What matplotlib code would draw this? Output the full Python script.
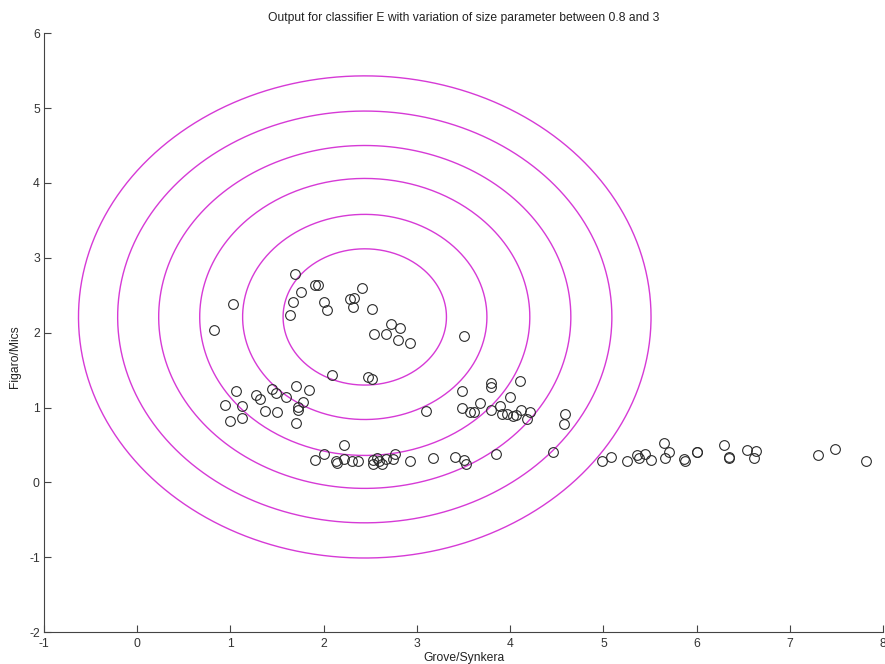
import numpy as np
import matplotlib
matplotlib.use("Agg")
import matplotlib.pyplot as plt

plt.rcParams['font.family'] = ['Liberation Sans', 'DejaVu Sans']
plt.rcParams['axes.unicode_minus'] = False

# scatter data (Grove/Synkera vs Figaro/Mics)
grove = [1.69, 1.03, 0.82, 1.76, 1.67, 1.64, 1.91, 1.94, 2.00, 2.03,
         2.41, 2.28, 2.32, 2.31, 2.52, 2.72, 2.82, 2.54, 2.67, 2.80,
         2.92, 3.50, 2.09, 2.48, 2.52, 1.06, 1.27, 1.32, 1.45, 1.49,
         1.60, 1.70, 1.84, 1.78, 1.72, 1.72, 0.94, 1.12, 1.37, 1.50,
         0.99, 1.12, 1.70, 3.10, 3.48, 3.79, 3.79, 4.10, 4.00, 3.68,
         3.48, 3.57, 3.61, 3.79, 3.89, 3.91, 3.97, 4.03, 4.06, 4.12,
         4.21, 4.18, 4.59, 4.58, 2.22, 2.00, 1.91, 2.13, 2.14, 2.22,
         2.30, 2.37, 2.53, 2.57, 2.53, 2.59, 2.63, 2.67, 2.74, 2.76,
         2.93, 3.17, 3.41, 3.50, 3.53, 3.85, 4.46, 4.98, 5.08, 5.25,
         5.36, 5.38, 5.45, 5.51, 5.65, 5.70, 5.66, 5.86, 5.87, 6.00,
         6.00, 6.29, 6.35, 6.35, 6.54, 6.64, 6.61, 7.30, 7.48, 7.82]
figaro = [2.78, 2.38, 2.04, 2.54, 2.41, 2.23, 2.63, 2.63, 2.41, 2.30,
          2.59, 2.45, 2.46, 2.34, 2.32, 2.12, 2.06, 1.98, 1.98, 1.90,
          1.86, 1.95, 1.43, 1.41, 1.38, 1.22, 1.17, 1.11, 1.25, 1.19,
          1.14, 1.29, 1.24, 1.08, 1.01, 0.97, 1.03, 1.02, 0.96, 0.94,
          0.82, 0.86, 0.80, 0.95, 1.22, 1.33, 1.28, 1.36, 1.14, 1.06,
          0.99, 0.94, 0.94, 0.97, 1.02, 0.91, 0.91, 0.89, 0.90, 0.97,
          0.94, 0.85, 0.91, 0.78, 0.50, 0.38, 0.30, 0.28, 0.26, 0.31,
          0.29, 0.28, 0.30, 0.32, 0.24, 0.28, 0.24, 0.31, 0.31, 0.38,
          0.28, 0.33, 0.34, 0.30, 0.25, 0.38, 0.40, 0.29, 0.34, 0.28,
          0.36, 0.33, 0.38, 0.30, 0.53, 0.40, 0.33, 0.31, 0.28, 0.41,
          0.40, 0.50, 0.34, 0.33, 0.43, 0.42, 0.32, 0.37, 0.45, 0.29]

# classifier E contours, size parameter from 0.8 to 3
centre = (2.44, 2.21)
rx = [0.876, 1.31, 1.77, 2.21, 2.65, 3.07]
ry = [0.91, 1.37, 1.85, 2.29, 2.75, 3.22]

fig = plt.figure(figsize=(8.85, 6.64), dpi=100)
ax = fig.add_axes([0.0497, 0.048, 0.9483, 0.902])

t = np.linspace(0, 2 * np.pi, 400)
for a, b in zip(rx, ry):
    ax.plot(centre[0] + a * np.cos(t), centre[1] + b * np.sin(t),
            color='#d63ad6', lw=1.0, solid_joinstyle='round',
            solid_capstyle='butt')

ax.plot(grove, figaro, 'o', mfc='none', mec='#2a2a2a', ms=7, mew=0.8)

ax.set_xlim(-1, 8)
ax.set_ylim(-2, 6)
ax.set_xticks(range(-1, 9))
ax.set_yticks(range(-2, 7))

for s in ['top', 'right']:
    ax.spines[s].set_visible(False)
for s in ['left', 'bottom']:
    ax.spines[s].set_color('#444444')
ax.tick_params(direction='in', length=5, width=0.8, colors='#444444',
               labelsize=8.7, labelcolor='#333333')
ax.tick_params(axis='x', pad=4)
ax.tick_params(axis='y', pad=3)

ax.set_title('Output for classifier E with variation of size parameter between 0.8 and 3',
             fontsize=8.7, color='#222222', pad=9)
ax.set_xlabel('Grove/Synkera', fontsize=8.7, color='#222222', labelpad=2)
ax.set_ylabel('Figaro/Mics', fontsize=8.7, color='#222222')
ax.yaxis.set_label_coords(-0.027, 0.46)

fig.savefig('out.png', dpi=100)
